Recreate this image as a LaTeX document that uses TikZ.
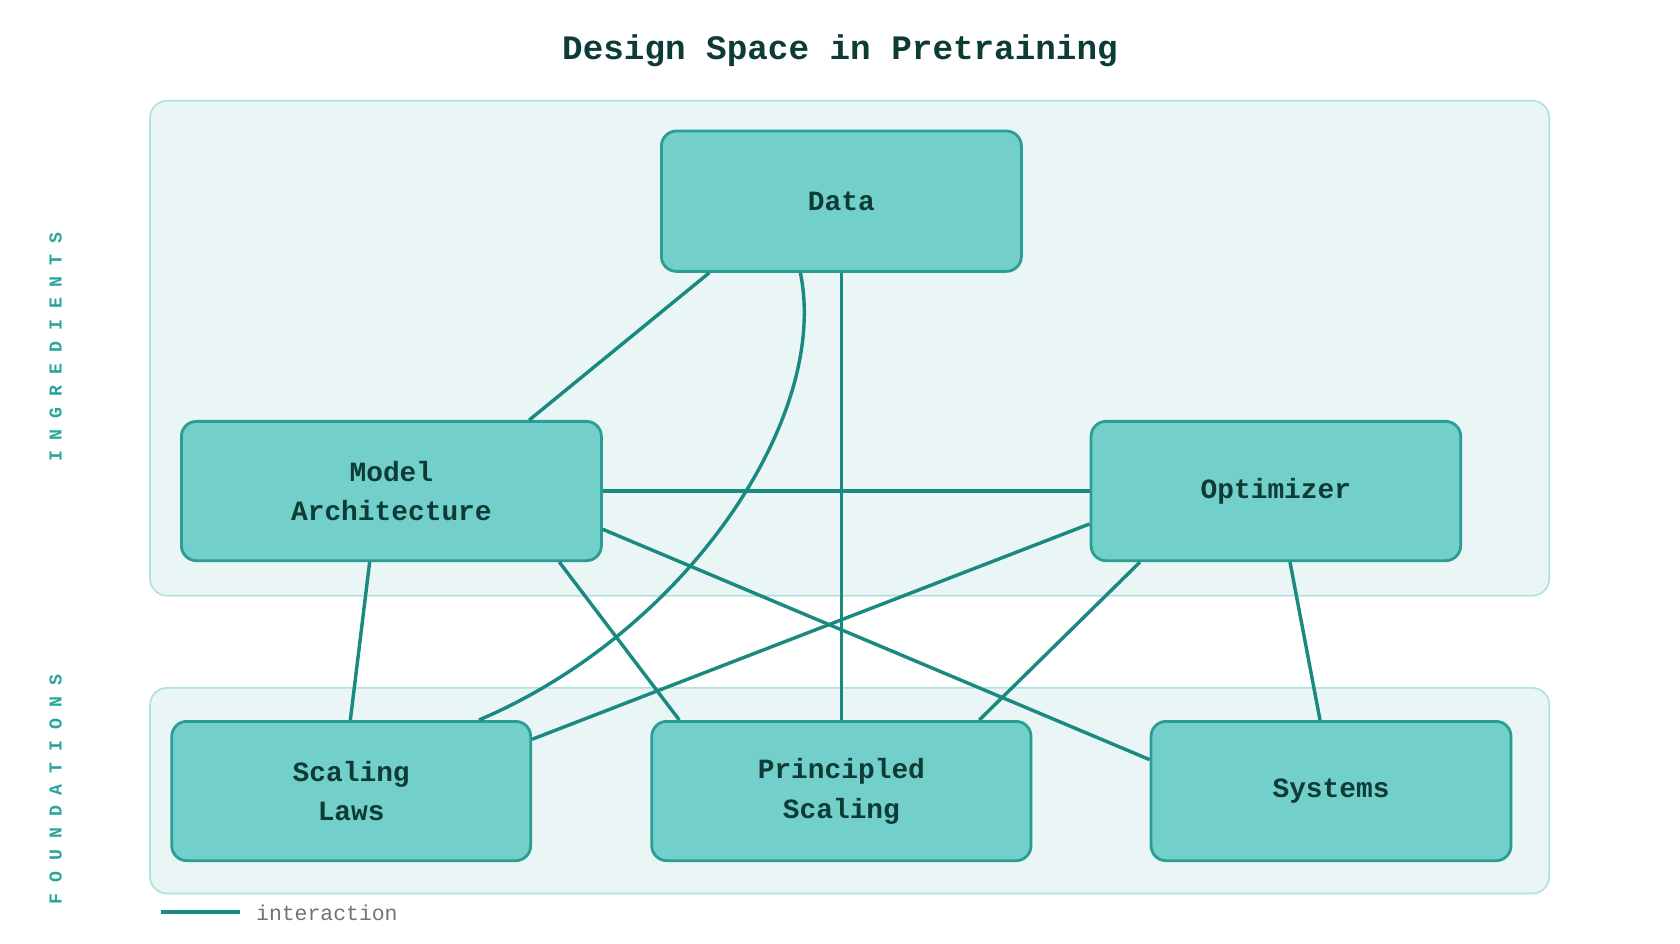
\documentclass[tikz,border=0pt]{standalone}
\usepackage{fontspec}
\setmonofont{Liberation Mono}
\usetikzlibrary{calc}
\definecolor{nfill}{HTML}{72CFC9}
\definecolor{nborder}{HTML}{2A9D94}
\definecolor{edge}{HTML}{1A8A80}
\definecolor{pfill}{HTML}{EAF6F5}
\definecolor{pborder}{HTML}{B2E2DE}
\definecolor{dark}{HTML}{0D3B36}
\definecolor{lab}{HTML}{2AA59B}
\tikzset{
 box/.style={draw=nborder,fill=nfill,line width=1.3pt,rounded corners=7pt,anchor=north west,inner sep=0pt,align=center,font=\ttfamily\bfseries\fontsize{13}{18.5}\selectfont,text=dark},
 panel/.style={draw=pborder,fill=pfill,line width=0.8pt,rounded corners=8pt},
 link/.style={draw=edge,line width=1.6pt},
 side/.style={rotate=90,font=\ttfamily\bfseries\fontsize{8.5}{10}\selectfont,text=lab}
}
\begin{document}
\begin{tikzpicture}[x=0.5pt,y=-0.5pt]
\useasboundingbox (0,0) rectangle (1568,881);
\node[font=\ttfamily\bfseries\fontsize{16}{19}\selectfont,text=dark] (title) at (784,47) {Design Space in Pretraining};
\draw[panel] (140,94) rectangle (1446,556);
\draw[panel] (140,642) rectangle (1446,834);
\node[side] (ing) at (52,324) {I N G R E D I E N T S};
\node[side] (fou) at (52,737) {F O U N D A T I O N S};
\node[box,minimum width=168pt,minimum height=65.5pt] (data) at (616,121) {Data};
\node[box,minimum width=196pt,minimum height=65pt] (model) at (168,392) {Model\\Architecture};
\node[box,minimum width=172.5pt,minimum height=65pt] (opt) at (1017,392) {Optimizer};
\node[box,minimum width=167.5pt,minimum height=65pt] (scal) at (159,672) {Scaling\\Laws};
\node[box,minimum width=177pt,minimum height=65pt] (prin) at (607,672) {Principled\\Scaling};
\node[box,minimum width=168pt,minimum height=65pt] (sys) at (1073,672) {Systems};
\begin{scope}[on background layer/.style={}]
\end{scope}
\draw[link] ($(data.south west)+(46,0)$) -- ($(model.north west)+(326,0)$);
\draw[link] ($(data.south west)+(131,0)$) .. controls (775,390) and (640,590) .. ($(scal.north west)+(288,0)$);
\draw[link] (data.south) -- (prin.north);
\draw[link] (model.east) -- (opt.west);
\draw[link] ($(model.north east)+(0,102)$) -- ($(sys.north west)+(0,37)$);
\draw[link] ($(model.south west)+(177,0)$) -- ($(scal.north west)+(168,0)$);
\draw[link] ($(model.south west)+(354,0)$) -- ($(prin.north west)+(27,0)$);
\draw[link] ($(opt.north west)+(0,97)$) -- ($(scal.north east)+(0,18)$);
\draw[link] ($(opt.south west)+(47,0)$) -- ($(prin.north west)+(307,0)$);
\draw[link] ($(opt.south west)+(187,0)$) -- ($(sys.north west)+(159,0)$);
\coordinate (l1) at (150,851);
\coordinate (l2) at (224,851);
\draw[link] (l1) -- (l2);
\node[anchor=west,font=\ttfamily\fontsize{10}{12}\selectfont,text=black!55] (leg) at (232,852) {interaction};
\end{tikzpicture}
\end{document}
